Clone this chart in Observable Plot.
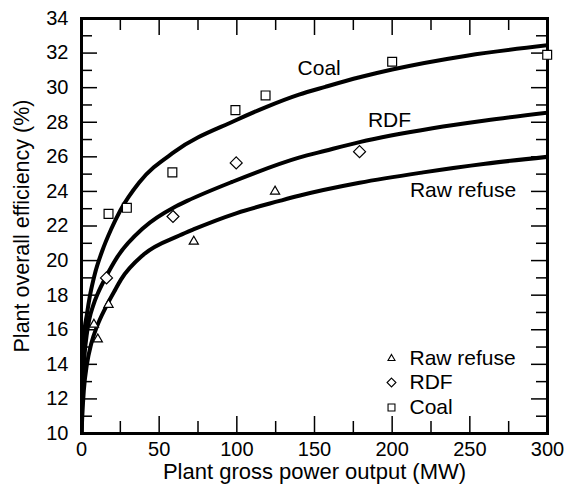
<!DOCTYPE html>
<html>
<head>
<meta charset="utf-8">
<script src="https://cdn.jsdelivr.net/npm/d3@7"></script>
<script src="https://cdn.jsdelivr.net/npm/@observablehq/plot@0.6"></script>
<style>
  body { margin: 0; background: #fff; }
  #chart { width: 567px; height: 490px; }
</style>
</head>
<body>
<div id="chart"></div>
<script>
// ---------- data ----------
const rawX = [8, 10.5, 17.4, 72.3, 124.6];
const rawY = [16.3, 15.45, 17.45, 21.1, 24.0];

const rdfX = [16.1, 58.9, 99.6, 179];
const rdfY = [19.0, 22.55, 25.65, 26.3];

const coalX = [17.4, 29.2, 58.5, 99.1, 118.5, 200, 299.8];
const coalY = [22.7, 23.05, 25.1, 28.7, 29.55, 31.5, 31.9];

// fitted curves as drawn in the reference
const coalCurveX = [0, 0.3, 0.8, 1.6, 3.5, 5.5, 8.5, 13.5, 19, 25, 37, 60, 99, 118, 140, 157, 179, 200, 248, 300];
const coalCurveY = [10, 12.2, 14, 15.6, 16.9, 18.0, 19.2, 20.6, 21.8, 22.9, 24.5, 26.3, 28.1, 28.85, 29.6, 30.05, 30.6, 31.05, 31.85, 32.45];

const rdfCurveX = [0, 0.4, 1, 2, 3.5, 5, 7.5, 10.5, 16, 23, 40, 60, 68, 97, 140, 157, 179, 226, 260, 300];
const rdfCurveY = [10, 11.8, 13.2, 14.6, 15.8, 16.6, 17.4, 18.1, 19.1, 20.2, 21.9, 23.1, 23.45, 24.55, 25.95, 26.35, 26.85, 27.65, 28.1, 28.55];

const rawCurveX = [0, 0.5, 1.5, 3.5, 6.3, 10, 15.6, 21, 25.4, 40, 63, 72, 100, 127.5, 140, 179, 220, 260, 300];
const rawCurveY = [10, 11, 12.5, 14.0, 15.2, 16.2, 17.3, 18.2, 18.9, 20.35, 21.45, 21.8, 22.75, 23.45, 23.75, 24.5, 25.1, 25.6, 26.0];

const curveLabelText = ["Coal", "RDF", "Raw refuse"];
const curveLabelX = [153, 198.3, 245.6];
const curveLabelY = [31.1, 28.1, 24.05];

const legendLabels = ["Raw refuse", "RDF", "Coal"];

const xMajor = [0, 50, 100, 150, 200, 250, 300];
const xMinor = [25, 75, 125, 175, 225, 275];
const yMajor = [10, 12, 14, 16, 18, 20, 22, 24, 26, 28, 30, 32, 34];
const yMinor = [11, 13, 15, 17, 19, 21, 23, 25, 27, 29, 31, 33];

const xTitle = "Plant gross power output (MW)";
const yTitle = "Plant overall efficiency (%)";

// ---------- build tables ----------
const pts = (xs, ys) => xs.map((x, i) => ({x, y: ys[i]}));
const coalCurve = pts(coalCurveX, coalCurveY);
const rdfCurve = pts(rdfCurveX, rdfCurveY);
const rawCurve = pts(rawCurveX, rawCurveY);
const coalPts = pts(coalX, coalY);
const rdfPts = pts(rdfX, rdfY);
const rawPts = pts(rawX, rawY);
const curveLabels = curveLabelText.map((t, i) => ({t, x: curveLabelX[i], y: curveLabelY[i]}));

// ---------- layout ----------
const W = 567, H = 490;
const mL = 81, mR = 20, mT = 18, mB = 57;
const fW = W - mL - mR, fH = H - mT - mB;
const majX = 17, minX = 12, majY = 16, minY = 11;
const font = "'Liberation Sans', Arial, Helvetica, sans-serif";
const fs = 21;
const tickFs = 20;
const tickStyle = {stroke: "black", strokeWidth: 1.5};
const lineStyle = {stroke: "black", strokeWidth: 4, curve: "monotone-x", clip: true};
const legendDy = [-75, -51, -26];

const chart = Plot.plot({
  width: W,
  height: H,
  marginLeft: mL, marginRight: mR, marginTop: mT, marginBottom: mB,
  style: {fontFamily: font, fontSize: fs + "px", color: "black", background: "white"},
  x: {domain: [0, 300]},
  y: {domain: [10, 34]},
  marks: [
    // inward ticks on all four sides
    Plot.ruleX(xMajor, {x: d => d, insetTop: fH - majX, ...tickStyle}),
    Plot.ruleX(xMinor, {x: d => d, insetTop: fH - minX, ...tickStyle}),
    Plot.ruleX(xMajor, {x: d => d, insetBottom: fH - majX, ...tickStyle}),
    Plot.ruleX(xMinor, {x: d => d, insetBottom: fH - minX, ...tickStyle}),
    Plot.ruleY(yMajor, {y: d => d, insetRight: fW - majY, ...tickStyle}),
    Plot.ruleY(yMinor, {y: d => d, insetRight: fW - minY, ...tickStyle}),
    Plot.ruleY(yMajor, {y: d => d, insetLeft: fW - majY, ...tickStyle}),
    Plot.ruleY(yMinor, {y: d => d, insetLeft: fW - minY, ...tickStyle}),
    // tick labels
    Plot.axisX({ticks: xMajor, tickSize: 0, tickPadding: 8, label: null, fontSize: tickFs, tickFormat: d => d}),
    Plot.axisY({ticks: yMajor, tickSize: 0, tickPadding: 13, label: null, fontSize: tickFs, tickFormat: d => d}),
    // axis titles
    Plot.text([xTitle], {text: d => d, frameAnchor: "bottom", dy: 38, fontSize: 22, textAnchor: "middle", lineAnchor: "middle", fill: "black"}),
    Plot.text([yTitle], {text: d => d, frameAnchor: "left", dx: -59, rotate: -90, fontSize: 21.5, textAnchor: "middle", lineAnchor: "middle", fill: "black"}),
    // curves
    Plot.line(coalCurve, {x: "x", y: "y", ...lineStyle}),
    Plot.line(rdfCurve, {x: "x", y: "y", ...lineStyle}),
    Plot.line(rawCurve, {x: "x", y: "y", ...lineStyle}),
    Plot.frame({stroke: "black", strokeWidth: 3}),
    // data points
    Plot.dot(rawPts, {x: "x", y: "y", symbol: "triangle", r: 3.4, stroke: "black", fill: "white", strokeWidth: 1.2}),
    Plot.dot(rdfPts, {x: "x", y: "y", symbol: "diamond2", r: 5.4, stroke: "black", fill: "white", strokeWidth: 1.2}),
    Plot.dot(coalPts, {x: "x", y: "y", symbol: "square", r: 5, stroke: "black", fill: "white", strokeWidth: 1.2}),
    // curve labels
    Plot.text(curveLabels, {x: "x", y: "y", text: "t", fontSize: fs, fill: "black", lineAnchor: "middle"}),
    // legend
    Plot.dot([legendLabels[0]], {frameAnchor: "bottom-right", dx: -156, dy: legendDy[0], symbol: "triangle", r: 2.6, stroke: "black", fill: "white", strokeWidth: 1.1}),
    Plot.dot([legendLabels[1]], {frameAnchor: "bottom-right", dx: -156, dy: legendDy[1], symbol: "diamond2", r: 4, stroke: "black", fill: "white", strokeWidth: 1.1}),
    Plot.dot([legendLabels[2]], {frameAnchor: "bottom-right", dx: -156, dy: legendDy[2], symbol: "square", r: 3.9, stroke: "black", fill: "white", strokeWidth: 1.1}),
    ...legendLabels.map((lab, i) =>
      Plot.text([lab], {text: d => d, frameAnchor: "bottom-right", dx: -138, dy: legendDy[i], fontSize: fs, textAnchor: "start", fill: "black", lineAnchor: "middle"})
    )
  ]
});
document.getElementById("chart").appendChild(chart);
</script>
</body>
</html>
